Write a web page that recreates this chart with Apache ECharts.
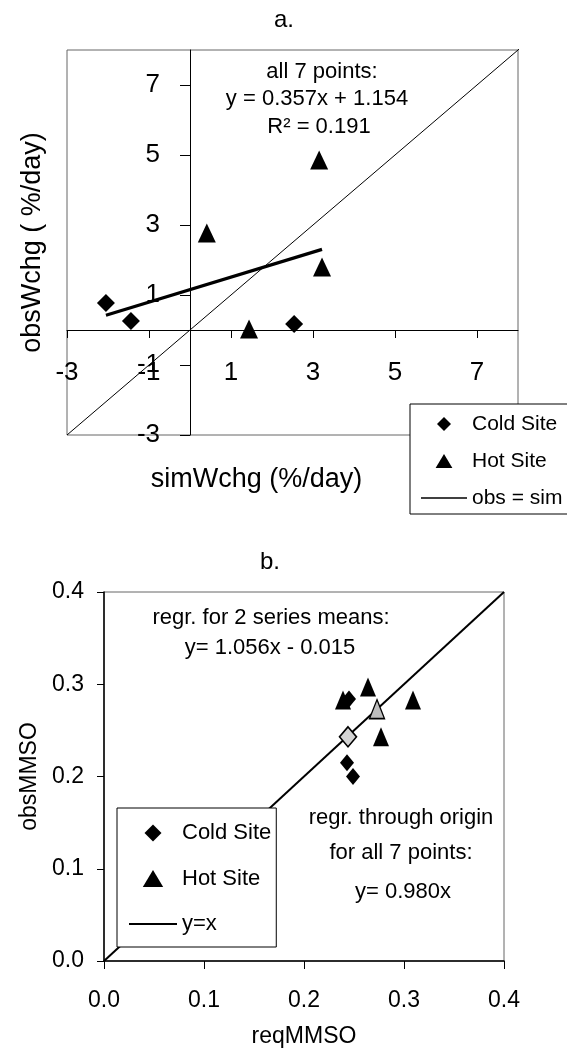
<!DOCTYPE html>
<html>
<head>
<meta charset="utf-8">
<script src="https://cdn.jsdelivr.net/npm/echarts@6/dist/echarts.min.js"></script>
<style>
  html, body { margin: 0; padding: 0; background: #fff; }
  #chart { width: 567px; height: 1054px; }
</style>
</head>
<body>
<div id="chart"></div>
<script>
// ---- Panel a: simulated vs observed weight change (%/day) ----
const coldA = [[-2.05, 0.77], [-1.44, 0.26], [2.54, 0.17]];
const hotA = [[0.41, 2.77], [3.15, 4.86], [3.22, 1.80], [1.44, 0.03]];
const fitA = [0.357, 1.154];          // slope, intercept of the regression over all 7 points
const fitR2A = 0.191;
const ticksA = [-3, -1, 1, 3, 5, 7];
const rangeA = [-3, 8];

// ---- Panel b: required vs observed MMSO ----
const coldB = [[0.245, 0.284], [0.243, 0.215], [0.249, 0.200]];
const hotB = [[0.264, 0.297], [0.309, 0.283], [0.277, 0.243], [0.239, 0.283]];
const coldMeanB = [[0.244, 0.243]];
const hotMeanB = [[0.273, 0.273]];
const meanFitB = [1.056, -0.015];     // regression through the two series means
const originFitB = 0.980;             // regression through origin, all 7 points
const ticksB = [0, 0.1, 0.2, 0.3, 0.4];

const FONT = '"Liberation Sans", Arial, Helvetica, sans-serif';
const DIAMOND = 'path://M0,-10L10,0L0,10L-10,0Z';
const TRIANGLE = 'path://M0,10L6,0L12,10Z';
const LINE_THIN = 'path://M0,0H46V1.4H0Z';
const LINE_BOLD = 'path://M0,0H48V2.2H0Z';

// grid boxes (pixels)
const gridA = { left: 67, top: 50, width: 451, height: 385 };
const gridB = { left: 104, top: 592, width: 400, height: 369 };

// panel a axes cross at the origin: shift each axis from the grid edge to the zero line
const spanA = rangeA[1] - rangeA[0];
const xAxisShiftA = -(0 - rangeA[0]) / spanA * gridA.height;
const yAxisShiftA = -(0 - rangeA[0]) / spanA * gridA.width;

// fitted line over the x extent of the points
const allA = coldA.concat(hotA).map(p => p[0]);
const xMinA = Math.min.apply(null, allA), xMaxA = Math.max.apply(null, allA);
const fitLineA = [[xMinA, fitA[0] * xMinA + fitA[1]], [xMaxA, fitA[0] * xMaxA + fitA[1]]];

function txt(x, y, text, size, align) {
  return {
    type: 'text', x: x, y: y, z: 10,
    style: {
      text: text, fill: '#000', fontSize: size, fontFamily: FONT,
      textAlign: align || 'center', align: align || 'center',
      textVerticalAlign: 'middle', verticalAlign: 'middle'
    }
  };
}

const black = '#000';
const solid = { color: black, opacity: 1 };
const axisText = (size) => ({ color: black, fontSize: size, fontFamily: FONT });

const chart = echarts.init(document.getElementById('chart'), null, { renderer: 'canvas' });

chart.setOption({
  backgroundColor: '#fff',
  animation: false,
  textStyle: { fontFamily: FONT, color: black },
  grid: [
    Object.assign({ show: true, borderColor: '#666', borderWidth: 1, containLabel: false, outerBoundsMode: 'none' }, gridA),
    Object.assign({ show: true, borderColor: '#666', borderWidth: 1, containLabel: false, outerBoundsMode: 'none' }, gridB)
  ],
  xAxis: [
    {
      type: 'value', gridIndex: 0, min: rangeA[0], max: rangeA[1],
      offset: xAxisShiftA,
      axisLine: { onZero: false, lineStyle: { color: black, width: 1 } },
      axisTick: { customValues: ticksA, length: 8, lineStyle: { color: black } },
      axisLabel: { customValues: ticksA, margin: 30, ...axisText(26) },
      splitLine: { show: false },
      name: 'simWchg (%/day)', nameLocation: 'middle', nameGap: 136,
      nameTextStyle: { ...axisText(27), padding: [0, 72, 0, 0] }
    },
    {
      type: 'value', gridIndex: 1, min: 0, max: 0.4, interval: 0.1,
      axisLine: { onZero: false, lineStyle: { color: black, width: 1.5 } },
      axisTick: { length: 8, lineStyle: { color: black } },
      axisLabel: { margin: 28, formatter: v => v.toFixed(1), ...axisText(23) },
      splitLine: { show: false },
      name: 'reqMMSO', nameLocation: 'middle', nameGap: 64,
      nameTextStyle: axisText(23)
    }
  ],
  yAxis: [
    {
      type: 'value', gridIndex: 0, min: rangeA[0], max: rangeA[1],
      offset: yAxisShiftA,
      axisLine: { onZero: false, lineStyle: { color: black, width: 1 } },
      axisTick: { customValues: ticksA, length: 10, lineStyle: { color: black } },
      axisLabel: { customValues: ticksA, margin: 30, ...axisText(26) },
      splitLine: { show: false },
      name: 'obsWchg ( %/day)', nameLocation: 'middle', nameGap: 144,
      nameTextStyle: axisText(27)
    },
    {
      type: 'value', gridIndex: 1, min: 0, max: 0.4, interval: 0.1,
      axisLine: { onZero: false, lineStyle: { color: black, width: 1.5 } },
      axisTick: { length: 7, lineStyle: { color: black } },
      axisLabel: { margin: 20, formatter: v => v.toFixed(1), ...axisText(23) },
      splitLine: { show: false },
      name: 'obsMMSO', nameLocation: 'middle', nameGap: 60,
      nameTextStyle: axisText(23)
    }
  ],
  legend: [
    {
      orient: 'vertical', left: 410, top: 404, selectedMode: false,
      itemWidth: 46, itemHeight: 14, itemGap: 15,
      padding: [9, 14, 5, 11],
      backgroundColor: '#fff', borderColor: black, borderWidth: 1,
      textStyle: { ...axisText(21), lineHeight: 22 },
      data: [
        { name: 'Cold Site', icon: DIAMOND, itemStyle: solid },
        { name: 'Hot Site', icon: TRIANGLE, itemStyle: solid },
        { name: 'obs = sim', icon: LINE_THIN, itemStyle: solid }
      ]
    },
    {
      orient: 'vertical', left: 117, top: 808, selectedMode: false,
      itemWidth: 48, itemHeight: 17, itemGap: 21.5,
      padding: [13, 5, 11, 12],
      backgroundColor: '#fff', borderColor: black, borderWidth: 1,
      textStyle: { ...axisText(22), lineHeight: 24 },
      data: [
        { name: 'Cold Site', icon: DIAMOND, itemStyle: solid },
        { name: 'Hot Site', icon: TRIANGLE, itemStyle: solid },
        { name: 'y=x', icon: LINE_BOLD, itemStyle: solid }
      ]
    }
  ],
  series: [
    // panel a
    {
      name: 'obs = sim', type: 'line', xAxisIndex: 0, yAxisIndex: 0,
      data: [[rangeA[0], rangeA[0]], [rangeA[1] + 0.2, rangeA[1] + 0.2]],
      clip: false, showSymbol: false, symbol: 'none',
      lineStyle: { color: black, width: 1 }, itemStyle: solid, z: 2
    },
    {
      name: 'fit a', type: 'line', xAxisIndex: 0, yAxisIndex: 0,
      data: fitLineA, showSymbol: false, symbol: 'none',
      lineStyle: { color: black, width: 3.2 }, z: 3
    },
    {
      name: 'Cold Site', type: 'scatter', xAxisIndex: 0, yAxisIndex: 0,
      data: coldA, symbol: 'diamond', symbolSize: [18, 18],
      itemStyle: solid, z: 4
    },
    {
      name: 'Hot Site', type: 'scatter', xAxisIndex: 0, yAxisIndex: 0,
      data: hotA, symbol: 'triangle', symbolSize: [18, 19],
      itemStyle: solid, z: 4
    },
    // panel b
    {
      name: 'y=x', type: 'line', xAxisIndex: 1, yAxisIndex: 1,
      data: [[0, 0], [0.4, 0.4]], showSymbol: false, symbol: 'none',
      lineStyle: { color: black, width: 2 }, itemStyle: solid, z: 2
    },
    {
      name: 'Cold Site', type: 'scatter', xAxisIndex: 1, yAxisIndex: 1,
      data: coldB, symbol: 'diamond', symbolSize: [14, 17],
      itemStyle: solid, z: 4
    },
    {
      name: 'Hot Site', type: 'scatter', xAxisIndex: 1, yAxisIndex: 1,
      data: hotB, symbol: 'triangle', symbolSize: [16, 19],
      itemStyle: solid, z: 4
    },
    {
      name: 'Cold mean', type: 'scatter', xAxisIndex: 1, yAxisIndex: 1,
      data: coldMeanB, symbol: 'diamond', symbolSize: [17, 20],
      itemStyle: { color: '#d4d4d4', opacity: 1, borderColor: black, borderWidth: 1.6 }, z: 5
    },
    {
      name: 'Hot mean', type: 'scatter', xAxisIndex: 1, yAxisIndex: 1,
      data: hotMeanB, symbol: 'triangle', symbolSize: [15, 19],
      itemStyle: { color: '#bdbdbd', opacity: 1, borderColor: black, borderWidth: 1.4 }, z: 5
    }
  ],
  graphic: [
    txt(284, 20, 'a.', 24),
    txt(322, 72, 'all 7 points:', 22),
    txt(317, 99, 'y = ' + fitA[0].toFixed(3) + 'x + ' + fitA[1].toFixed(3), 22),
    txt(319, 127, 'R\u00b2 = ' + fitR2A.toFixed(3), 22),
    txt(270, 562, 'b.', 24),
    txt(271, 618, 'regr. for 2 series means:', 22),
    txt(270, 648, 'y= ' + meanFitB[0].toFixed(3) + 'x - ' + Math.abs(meanFitB[1]).toFixed(3), 22),
    txt(401, 818, 'regr. through origin', 22),
    txt(401, 853, 'for all 7 points:', 22),
    txt(403, 892, 'y= ' + originFitB.toFixed(3) + 'x', 22)
  ]
});
</script>
</body>
</html>
